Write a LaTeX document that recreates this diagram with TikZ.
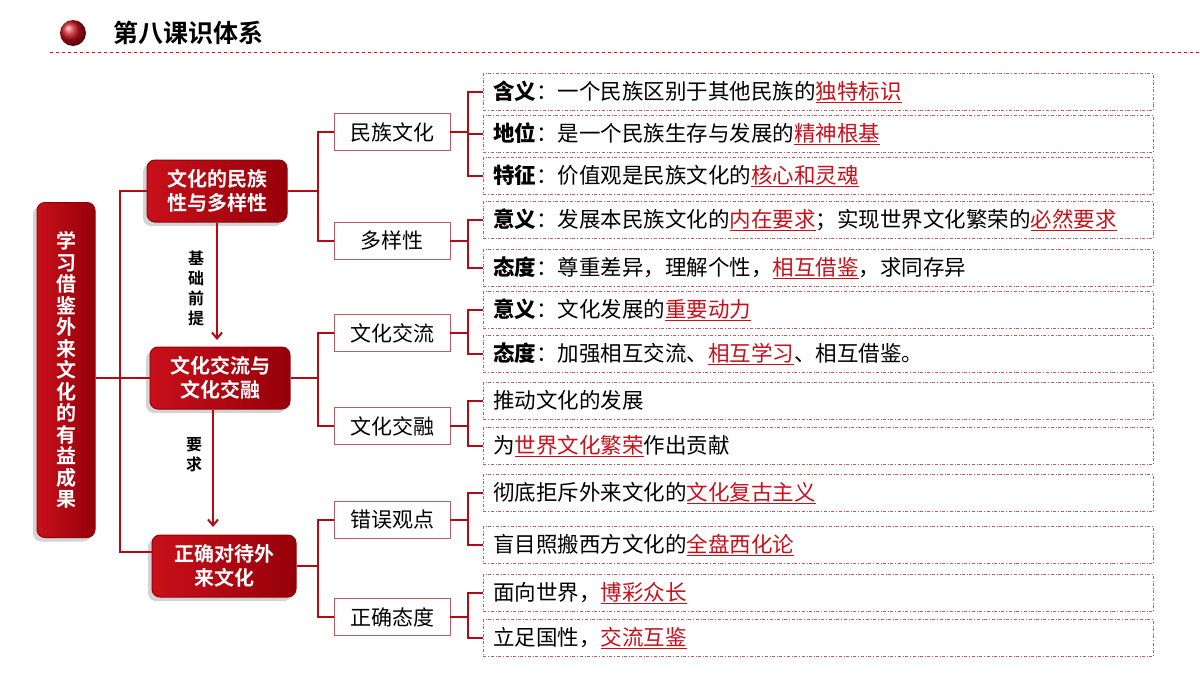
\documentclass[tikz,border=0pt]{standalone}
\usepackage{fontspec}
\setmainfont{Noto Sans CJK SC}
\newfontfamily\cjk{Noto Sans CJK SC}
\newfontfamily\cjkb{Noto Sans CJK SC Bold}
\usetikzlibrary{arrows.meta,shadows}
\definecolor{myred}{RGB}{200,16,26}
\definecolor{dkred}{RGB}{150,0,10}
\definecolor{linered}{RGB}{180,10,20}
\definecolor{boxedge}{RGB}{190,90,100}
\newcommand\hl[1]{\textcolor{myred}{\underline{#1}}}
\tikzset{
  mainbox/.style={rounded corners=8pt, left color=myred, right color=dkred, draw=dkred, line width=1pt,
    text=white, font=\cjkb\fontsize{20}{24}\selectfont, align=center, drop shadow={opacity=0.35,shadow xshift=-4pt,shadow yshift=-4pt}},
  midbox/.style={draw=boxedge, fill=white, line width=0.8pt, minimum width=116pt, minimum height=37pt,
    font=\cjk\fontsize{21}{24}\selectfont},
  leaf/.style={draw=boxedge, dash dot, line width=0.7pt, minimum height=37pt, minimum width=670pt,
    anchor=west, font=\cjk\fontsize{21.5}{24}\selectfont, text depth=4pt, inner xsep=10pt, text width=650pt, align=left},
  conn/.style={draw=linered, line width=2.6pt},
}
\begin{document}
\begin{tikzpicture}[x=1pt,y=-1pt]
\useasboundingbox (0,0) rectangle (1200,675);
% title
\shade[ball color=myred] (73,33) circle (13);
\node[font=\cjkb\fontsize{25}{28}\selectfont, anchor=west] (title) at (110,33) {第八课识体系};
\draw[myred, dashed, line width=0.8pt] (50,52) -- (1200,52);

% left box
\node[mainbox, minimum width=58pt, minimum height=335pt, inner sep=2pt, font=\cjkb\fontsize{20}{21.5}\selectfont] (root) at (66,370)
 {学\\习\\借\\鉴\\外\\来\\文\\化\\的\\有\\益\\成\\果};

\node[mainbox, minimum width=140pt, minimum height=62pt] (a) at (217,191) {文化的民族\\性与多样性};
\node[mainbox, minimum width=140pt, minimum height=62pt] (b) at (220,378) {文化交流与\\文化交融};
\node[mainbox, minimum width=144pt, minimum height=62pt] (c) at (224,566) {正确对待外\\来文化};

\draw[linered, line width=2pt] (root.east |- 0,378) -- (b.west);
\draw[linered, line width=2pt] (a.west) -- (120,191) -- (120,552) -- (c.west |- 0,552);
\draw[linered, line width=2pt, -{Straight Barb[length=6pt,width=10pt]}] (a.south) -- (217,340);
\draw[linered, line width=2pt, -{Straight Barb[length=6pt,width=10pt]}] (213,410) -- (213,527);
\node[font=\cjkb\fontsize{16}{20}\selectfont, align=center] (l1) at (196,288) {基\\础\\前\\提};
\node[font=\cjkb\fontsize{16}{20}\selectfont, align=center] (l2) at (194,455) {要\\求};

% mid boxes
\node[midbox] (m1) at (392,132) {民族文化};
\node[midbox] (m2) at (392,241) {多样性};
\node[midbox] (m3) at (392,333) {文化交流};
\node[midbox] (m4) at (392,426) {文化交融};
\node[midbox] (m5) at (392,520) {错误观点};
\node[midbox] (m6) at (392,617) {正确态度};

\foreach \p/\u/\v/\yy in {a/m1/m2/191, b/m3/m4/378, c/m5/m6/566}{
  \draw[conn] (\p.east |- 0,\yy) -- (318,\yy);
  \draw[conn] (\u.west) -- (318,0 |- \u.west) -- (318,0 |- \v.west) -- (\v.west);
}

% leaves
\node[leaf] (n1) at (483,92) {\textbf{含义}：一个民族区别于其他民族的\hl{独特标识}};
\node[leaf] (n2) at (483,134) {\textbf{地位}：是一个民族生存与发展的\hl{精神根基}};
\node[leaf] (n3) at (483,176) {\textbf{特征}：价值观是民族文化的\hl{核心和灵魂}};
\node[leaf] (n4) at (483,220) {\textbf{意义}：发展本民族文化的\hl{内在要求}；实现世界文化繁荣的\hl{必然要求}};
\node[leaf] (n5) at (483,268) {\textbf{态度}：尊重差异，理解个性，\hl{相互借鉴}，求同存异};
\node[leaf] (n6) at (483,310) {\textbf{意义}：文化发展的\hl{重要动力}};
\node[leaf] (n7) at (483,354) {\textbf{态度}：加强相互交流、\hl{相互学习}、相互借鉴。};
\node[leaf] (n8) at (483,401) {推动文化的发展};
\node[leaf] (n9) at (483,446) {为\hl{世界文化繁荣}作出贡献};
\node[leaf] (n10) at (483,493) {彻底拒斥外来文化的\hl{文化复古主义}};
\node[leaf] (n11) at (483,545) {盲目照搬西方文化的\hl{全盘西化论}};
\node[leaf] (n12) at (483,593) {面向世界，\hl{博彩众长}};
\node[leaf] (n13) at (483,638) {立足国性，\hl{交流互鉴}};

\foreach \m/\f/\l in {m1/n1/n3, m2/n4/n5, m3/n6/n7, m4/n8/n9, m5/n10/n11, m6/n12/n13}{
  \draw[conn] (\m.east) -- (468,0 |- \m.east);
  \draw[conn] (\f.west) -- (468,0 |- \f.west) -- (468,0 |- \l.west) -- (\l.west);
}
\draw[conn] (n2.west) -- (468,134);
\end{tikzpicture}
\end{document}
